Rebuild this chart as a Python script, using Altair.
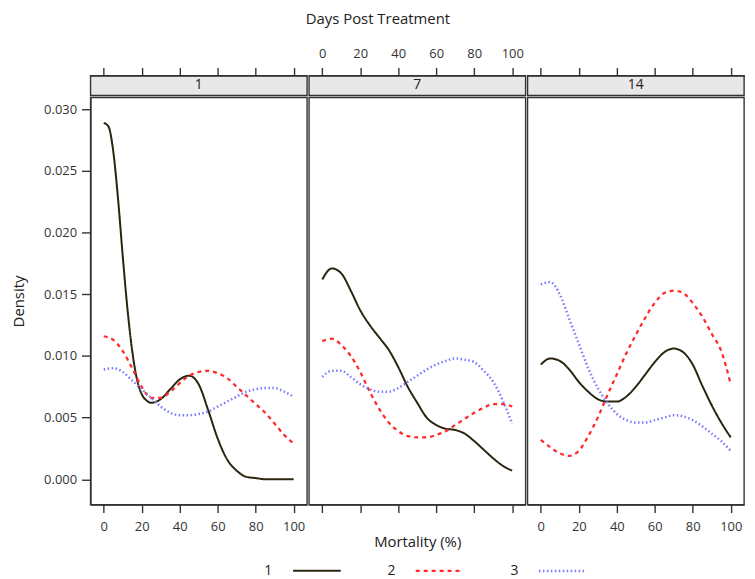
import altair as alt
import pandas as pd

FONT = "Open Sans"

panels = ["1", "7", "14"]
series = ["1", "2", "3"]
colors = ["#2b2510", "#ff2a2a", "#7a7aff"]
x_ticks = [0, 20, 40, 60, 80, 100]
y_ticks = [0.000, 0.005, 0.010, 0.015, 0.020, 0.025, 0.030]

x5 = [0, 5, 10, 15, 20, 25, 30, 35, 40, 45, 50, 55, 60, 65, 70, 75, 80, 85, 90, 95, 100]
p1_x_s1 = [0, 2.5, 5, 7.5, 10, 12.5, 15, 17.5, 20, 22.5, 25, 30, 35, 40, 45, 50,
           55, 60, 65, 70, 75, 80, 85, 90, 95, 100]

# Panel "1"
p1_s1 = [0.0289, 0.0286, 0.0266, 0.0228, 0.0181, 0.0138, 0.0104, 0.0081, 0.0069, 0.0064,
         0.0062, 0.0065, 0.0073, 0.0081, 0.0084, 0.0077, 0.0056, 0.0033, 0.0016, 0.0007,
         0.0002, 0.0001, 0.0000, 0.0000, 0.0000, 0.0000]
p1_s2 = [0.0116, 0.0113, 0.0104, 0.0090, 0.0075, 0.0066, 0.0066, 0.0071, 0.0078, 0.0084,
         0.0087, 0.0088, 0.0086, 0.0082, 0.0075, 0.0068, 0.0061, 0.0054, 0.0045, 0.0036, 0.0029]
p1_s3 = [0.0089, 0.0090, 0.0087, 0.0080, 0.0073, 0.0066, 0.0059, 0.0054, 0.0052, 0.0052,
         0.0053, 0.0055, 0.0059, 0.0063, 0.0067, 0.0071, 0.0073, 0.0074, 0.0074, 0.0071, 0.0067]
# Panel "7"
p2_s1 = [0.0162, 0.0171, 0.0167, 0.0153, 0.0137, 0.0125, 0.0115, 0.0105, 0.0091, 0.0075,
         0.0062, 0.0050, 0.0044, 0.0041, 0.0040, 0.0037, 0.0031, 0.0024, 0.0017, 0.0011, 0.0007]
p2_s2 = [0.0112, 0.0114, 0.0109, 0.0100, 0.0087, 0.0071, 0.0057, 0.0046, 0.0039, 0.0035,
         0.0034, 0.0034, 0.0036, 0.0039, 0.0044, 0.0049, 0.0054, 0.0058, 0.0061, 0.0061, 0.0059]
p2_s3 = [0.0083, 0.0088, 0.0088, 0.0083, 0.0077, 0.0073, 0.0071, 0.0071, 0.0074, 0.0079,
         0.0084, 0.0089, 0.0093, 0.0096, 0.0098, 0.0097, 0.0095, 0.0088, 0.0079, 0.0064, 0.0045]
# Panel "14"
p3_s1 = [0.0093, 0.0098, 0.0096, 0.0089, 0.0079, 0.0071, 0.0065, 0.0063, 0.0063, 0.0067,
         0.0075, 0.0085, 0.0095, 0.0103, 0.0106, 0.0103, 0.0093, 0.0076, 0.0060, 0.0046, 0.0034]
p3_s2 = [0.0032, 0.0026, 0.0021, 0.0019, 0.0023, 0.0035, 0.0050, 0.0068, 0.0085, 0.0102,
         0.0117, 0.0131, 0.0143, 0.0151, 0.0153, 0.0151, 0.0143, 0.0132, 0.0118, 0.0104, 0.0077]
p3_s3 = [0.0158, 0.0160, 0.0150, 0.0130, 0.0110, 0.0090, 0.0074, 0.0062, 0.0053, 0.0048,
         0.0046, 0.0046, 0.0048, 0.0050, 0.0052, 0.0051, 0.0048, 0.0043, 0.0037, 0.0031, 0.0023]

curves = [
    (panels[0], series[0], p1_x_s1, p1_s1),
    (panels[0], series[1], x5, p1_s2),
    (panels[0], series[2], x5, p1_s3),
    (panels[1], series[0], x5, p2_s1),
    (panels[1], series[1], x5, p2_s2),
    (panels[1], series[2], x5, p2_s3),
    (panels[2], series[0], x5, p3_s1),
    (panels[2], series[1], x5, p3_s2),
    (panels[2], series[2], x5, p3_s3),
]
rows = []
for pan, ser, xs, ys in curves:
    for xv, yv in zip(xs, ys):
        rows.append({"panel": pan, "series": ser, "x": xv, "y": yv})
df = pd.DataFrame(rows)

XDOM = [-7, 107]
YDOM = [-0.00205, 0.03097]
W, H, SH = 218, 410, 20
AX = "#333333"

legend = alt.Legend(
    title=None, orient="none", legendX=203, legendY=473, direction="horizontal",
    symbolType="stroke", symbolSize=2300, symbolStrokeWidth=2,
    labelAlign="right", labelOffset={"expr": "-70"}, labelFontSize=14, labelFont=FONT,
    labelColor="#222222", columnPadding=42,
)

color_scale = alt.Scale(domain=series, range=colors)
dash_scale = alt.Scale(domain=series, range=[[1, 0], [4, 4], [1.5, 2.5]])
width_scale = alt.Scale(domain=series, range=[2, 2.5, 1.5])


def panel_chart(i):
    d = df[df["panel"] == panels[i]]
    if i == 0:
        yaxis = alt.Axis(values=y_ticks, format=".3f", tickSize=9, labelPadding=5,
                         title="Density", titlePadding=17)
    else:
        yaxis = None
    if i == 1:
        xaxis = alt.Axis(values=x_ticks, labels=False, tickSize=8,
                         title="Mortality (%)", titlePadding=22)
    else:
        xaxis = alt.Axis(values=x_ticks, tickSize=8, labelPadding=8, title=None)
    return alt.Chart(d).mark_line(interpolate="monotone").encode(
        x=alt.X("x:Q", scale=alt.Scale(domain=XDOM, nice=False, zero=False), axis=xaxis),
        y=alt.Y("y:Q", scale=alt.Scale(domain=YDOM, nice=False, zero=False), axis=yaxis),
        color=alt.Color("series:N", scale=color_scale, legend=legend),
        strokeDash=alt.StrokeDash("series:N", scale=dash_scale, legend=legend),
        strokeWidth=alt.StrokeWidth("series:N", scale=width_scale, legend=None),
    ).properties(
        width=W, height=H,
        view=alt.ViewBackground(fill="white", stroke=AX, strokeWidth=1.4),
    )


def strip_chart(i):
    xaxis = alt.Axis(orient="top", values=x_ticks, labels=(i == 1), tickSize=8,
                     labelPadding=7, title=None)
    mid = (x_ticks[0] + x_ticks[-1]) / 2
    return alt.Chart(pd.DataFrame({"panel": [panels[i]]})).mark_text(
        font=FONT, fontSize=14, color="#222222", baseline="middle"
    ).encode(
        x=alt.XDatum(mid, scale=alt.Scale(domain=XDOM, nice=False, zero=False), axis=xaxis),
        text="panel:N",
    ).properties(
        width=W, height=SH,
        view=alt.ViewBackground(fill="#e8e8e8", stroke=AX, strokeWidth=1.4),
    )


chart = alt.concat(
    strip_chart(0), strip_chart(1), strip_chart(2),
    panel_chart(0), panel_chart(1), panel_chart(2),
    columns=3, spacing=0,
).resolve_scale(
    color="shared", strokeDash="shared", strokeWidth="shared"
).properties(
    padding={"left": 3, "top": 2, "right": 2, "bottom": 2},
    title=alt.TitleParams("Days Post Treatment", font=FONT, fontSize=15,
                          fontWeight="normal", color="#222222", anchor="middle",
                          frame="bounds", offset=20),
).configure_axis(
    labelFont=FONT, labelFontSize=13, labelColor="#333333",
    titleFont=FONT, titleFontSize=15, titleFontWeight="normal", titleColor="#222222",
    domainColor=AX, tickColor=AX, domainWidth=1.4, tickWidth=1.4, grid=False,
)

chart.save("out.html", embed_options={"renderer": "svg", "actions": False})
